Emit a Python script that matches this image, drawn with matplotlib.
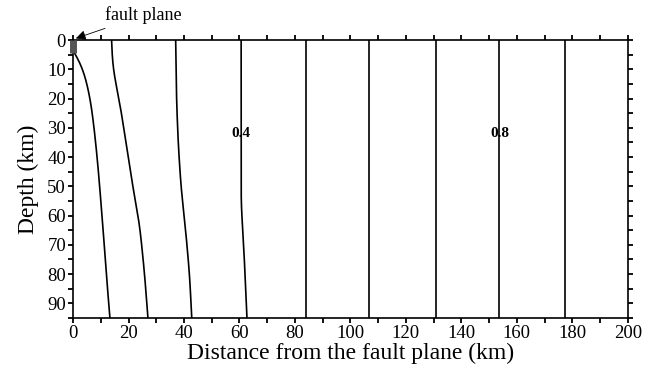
import numpy as np
import matplotlib
matplotlib.use('Agg')
import matplotlib.pyplot as plt
from matplotlib.ticker import MultipleLocator

plt.rcParams['font.family'] = ['Liberation Serif', 'DejaVu Serif']

# contour lines: depth (km) -> distance (km)
levels = [0.1, 0.2, 0.3, 0.4, 0.5, 0.6, 0.7, 0.8, 0.9]
line_depths = [
    [3.5, 5.1, 9.7, 15.4, 21, 30, 41, 50, 63, 80, 95],
    [0, 8.5, 13, 21, 32, 47, 63, 80, 95],
    [0, 20, 35, 50, 65, 80, 95],
    [0, 57, 66, 78, 95],
    [0, 95],
    [0, 95],
    [0, 95],
    [0, 95],
    [0, 95],
]
line_dist = [
    [0.0, 1.8, 3.6, 5.2, 6.4, 7.6, 8.8, 9.6, 10.7, 12.0, 13.3],
    [13.9, 14.2, 15.0, 16.8, 18.6, 21.0, 24.0, 25.8, 27.0],
    [37.0, 37.3, 37.9, 38.9, 40.6, 42.0, 42.8],
    [60.6, 60.6, 61.3, 61.9, 62.7],
    [83.9, 83.9],
    [106.8, 106.8],
    [130.8, 130.8],
    [153.7, 153.7],
    [177.4, 177.4],
]
label_levels = [0.4, 0.8]
label_depth = 32
fault_depth = 4.5


def smooth(d, x, n=400, sig=18):
    dd = np.linspace(d[0], d[-1], n)
    xx = np.interp(dd, d, x)
    k = np.arange(-3 * sig, 3 * sig + 1)
    w = np.exp(-0.5 * (k / sig) ** 2)
    w /= w.sum()
    # odd reflection keeps the end points in place
    pad = len(k) // 2
    left = 2 * xx[0] - xx[1:pad + 1][::-1]
    right = 2 * xx[-1] - xx[-pad - 1:-1][::-1]
    xs = np.convolve(np.concatenate([left, xx, right]), w, mode='valid')
    return xs, dd


fig = plt.figure(figsize=(6.52, 3.65), dpi=100)
ax = fig.add_axes([0.112, 0.129, 0.851, 0.761])

for lev, d, x in zip(levels, line_depths, line_dist):
    if len(d) > 2:
        xs, dd = smooth(d, x)
        ax.plot(xs, dd, color='black', lw=1.2)
    else:
        ax.plot(x, d, color='black', lw=1.2)
    if lev in label_levels:
        xl = np.interp(label_depth, d, x)
        ax.text(xl, label_depth, '%.1f' % lev, ha='center', va='center',
                fontsize=11, fontweight='bold')

# fault plane
ax.plot([0, 0], [0, fault_depth], color='#555555', lw=5, clip_on=False,
        solid_capstyle='butt', zorder=5)
ax.annotate('fault plane', xy=(1.0, -0.6), xytext=(11.5, -8.5),
            fontsize=13, va='center', ha='left',
            arrowprops=dict(arrowstyle='-|>', color='black', lw=0.6,
                            mutation_scale=15, shrinkA=3, shrinkB=0),
            annotation_clip=False)

ax.set_xlim(0, 200)
ax.set_ylim(95, 0)
ax.xaxis.set_major_locator(MultipleLocator(20))
ax.xaxis.set_minor_locator(MultipleLocator(10))
ax.yaxis.set_major_locator(MultipleLocator(10))
ax.yaxis.set_minor_locator(MultipleLocator(5))
ax.tick_params(which='both', direction='out', length=3.5, width=1.3,
               top=True, right=True, labelsize=13.5, pad=1.5)
for s in ax.spines.values():
    s.set_linewidth(1.2)

ax.set_xlabel('Distance from the fault plane (km)', fontsize=17, labelpad=1)
ax.set_ylabel('Depth (km)', fontsize=17, labelpad=6)

fig.savefig('out.png', dpi=100)
